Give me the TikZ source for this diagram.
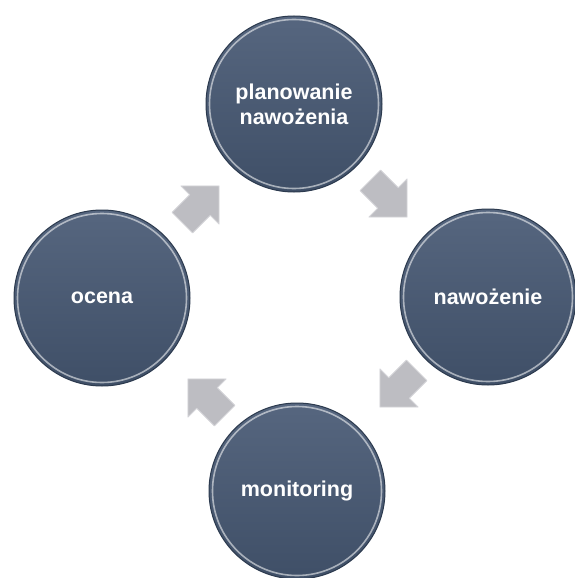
\documentclass[tikz,border=0pt]{standalone}
\usepackage{fontspec}
\setmainfont{Liberation Sans}
\definecolor{disctop}{HTML}{56667F}
\definecolor{discbot}{HTML}{3F4F67}
\definecolor{discedge}{HTML}{2C3A4E}
\definecolor{arrfill}{HTML}{BDBDC2}
\definecolor{arredge}{HTML}{D4D4D8}
\tikzset{
  disc/.style={circle, minimum size=176pt, inner sep=0pt, draw=discedge, line width=1pt,
    top color=disctop, bottom color=discbot, text=white,
    font=\fontsize{21.5}{25}\selectfont\bfseries, align=center},
  rim/.style={draw=white, draw opacity=0.55, line width=1.6pt},
  blockarrow/.style={fill=arrfill, draw=arredge, line width=0.8pt, line join=round},
  pics/cyclearrow/.style={code={
    \path[blockarrow] (27,0) -- (0,27) -- (0,14.5) -- (-25,14.5) -- (-25,-14.5) -- (0,-14.5) -- (0,-27) -- cycle;
  }}
}
\begin{document}
\begin{tikzpicture}[x=1pt,y=-1pt]
\useasboundingbox (0,0) rectangle (574,578);
\fill[white] (0,0) rectangle (574,578);
% discs
\node[disc] (plan) at (294,104) {planowanie\\nawożenia};
\node[disc] (naw)  at (488,297) {nawożenie};
\node[disc] (mon)  at (297,491) {monitoring};
\node[disc] (oc)   at (102,298) {ocena};
\foreach \n in {plan,naw,mon,oc}{
  \draw[rim] (\n.center) circle (84.5);
}
% block arrows
\pic[rotate=45] (a1) at (200,205) {cyclearrow};
\pic[rotate=-45] (a2) at (388,198) {cyclearrow};
\pic[rotate=-135] (a3) at (399,388) {cyclearrow};
\pic[rotate=135] (a4) at (207,398) {cyclearrow};
\end{tikzpicture}
\end{document}
